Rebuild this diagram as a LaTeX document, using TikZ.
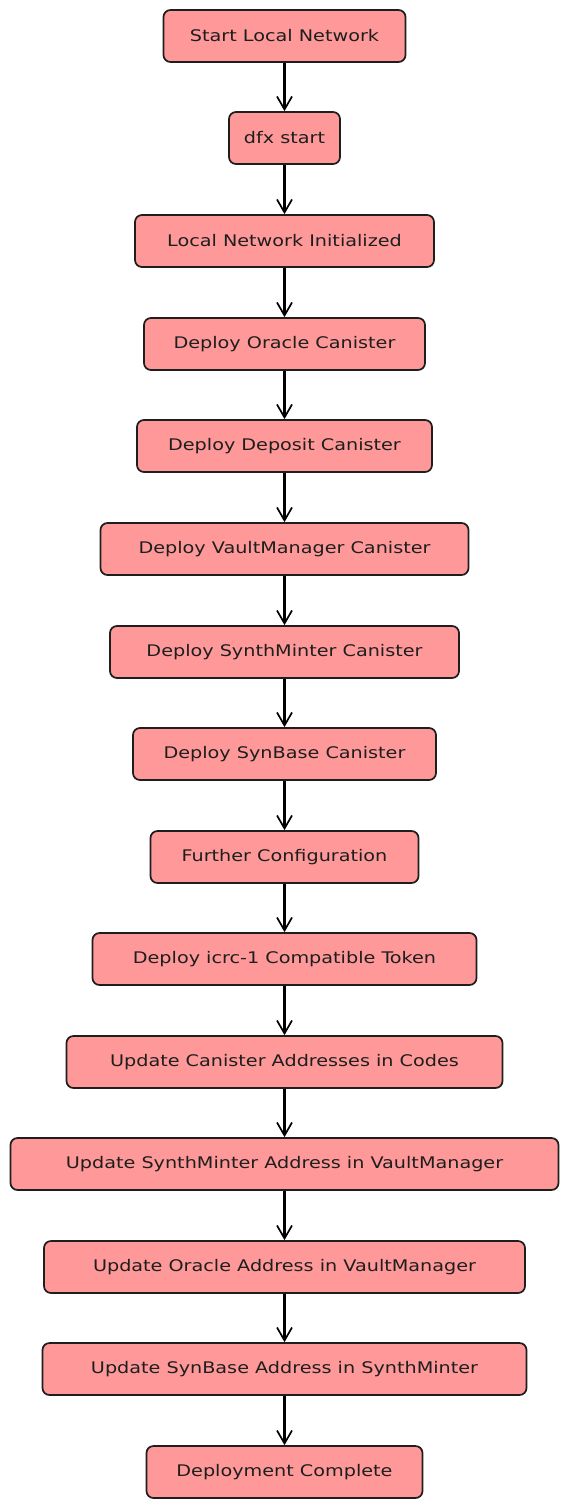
\documentclass[tikz,border=0pt]{standalone}
\usepackage{fontspec}
\setmainfont[FakeStretch=1.2]{DejaVu Sans}
\usetikzlibrary{arrows.meta}
\definecolor{boxfill}{RGB}{255,153,153}
\definecolor{ink}{RGB}{30,30,30}
\tikzset{
  stepbox/.style={draw=ink, fill=boxfill, line width=1.7pt, rounded corners=7pt,
    minimum height=52pt, inner sep=0pt, font=\fontsize{16}{18}\selectfont, text=ink},
  flow/.style={draw=black, line width=2.2pt, -{Straight Barb[length=13pt,width=15pt,line width=1.7pt]}}
}
\begin{document}
\begin{tikzpicture}[x=1pt,y=-1pt]
\fill[white] (0,0) rectangle (569,1508);
\useasboundingbox (0,0) rectangle (569,1508);
\node[stepbox, minimum width=242pt] (n1) at (284.5,36) {Start Local Network};
\node[stepbox, minimum width=111pt] (n2) at (284.5,138) {dfx start};
\node[stepbox, minimum width=299pt] (n3) at (284.5,241) {Local Network Initialized};
\node[stepbox, minimum width=281pt] (n4) at (284.5,344) {Deploy Oracle Canister};
\node[stepbox, minimum width=295pt] (n5) at (284.5,446) {Deploy Deposit Canister};
\node[stepbox, minimum width=368pt] (n6) at (284.5,549) {Deploy VaultManager Canister};
\node[stepbox, minimum width=349pt] (n7) at (284.5,652) {Deploy SynthMinter Canister};
\node[stepbox, minimum width=303pt] (n8) at (284.5,754) {Deploy SynBase Canister};
\node[stepbox, minimum width=268pt] (n9) at (284.5,857) {Further Configuration};
\node[stepbox, minimum width=384pt] (n10) at (284.5,959) {Deploy icrc-1 Compatible Token};
\node[stepbox, minimum width=436pt] (n11) at (284.5,1062) {Update Canister Addresses in Codes};
\node[stepbox, minimum width=548pt] (n12) at (284.5,1164) {Update SynthMinter Address in VaultManager};
\node[stepbox, minimum width=481pt] (n13) at (284.5,1267) {Update Oracle Address in VaultManager};
\node[stepbox, minimum width=484pt] (n14) at (284.5,1369) {Update SynBase Address in SynthMinter};
\node[stepbox, minimum width=276pt] (n15) at (284.5,1472) {Deployment Complete};
\foreach \a/\b in {n1/n2,n2/n3,n3/n4,n4/n5,n5/n6,n6/n7,n7/n8,n8/n9,n9/n10,n10/n11,n11/n12,n12/n13,n13/n14,n14/n15}
  \draw[flow] (\a.south) -- (\b.north);
\end{tikzpicture}
\end{document}
